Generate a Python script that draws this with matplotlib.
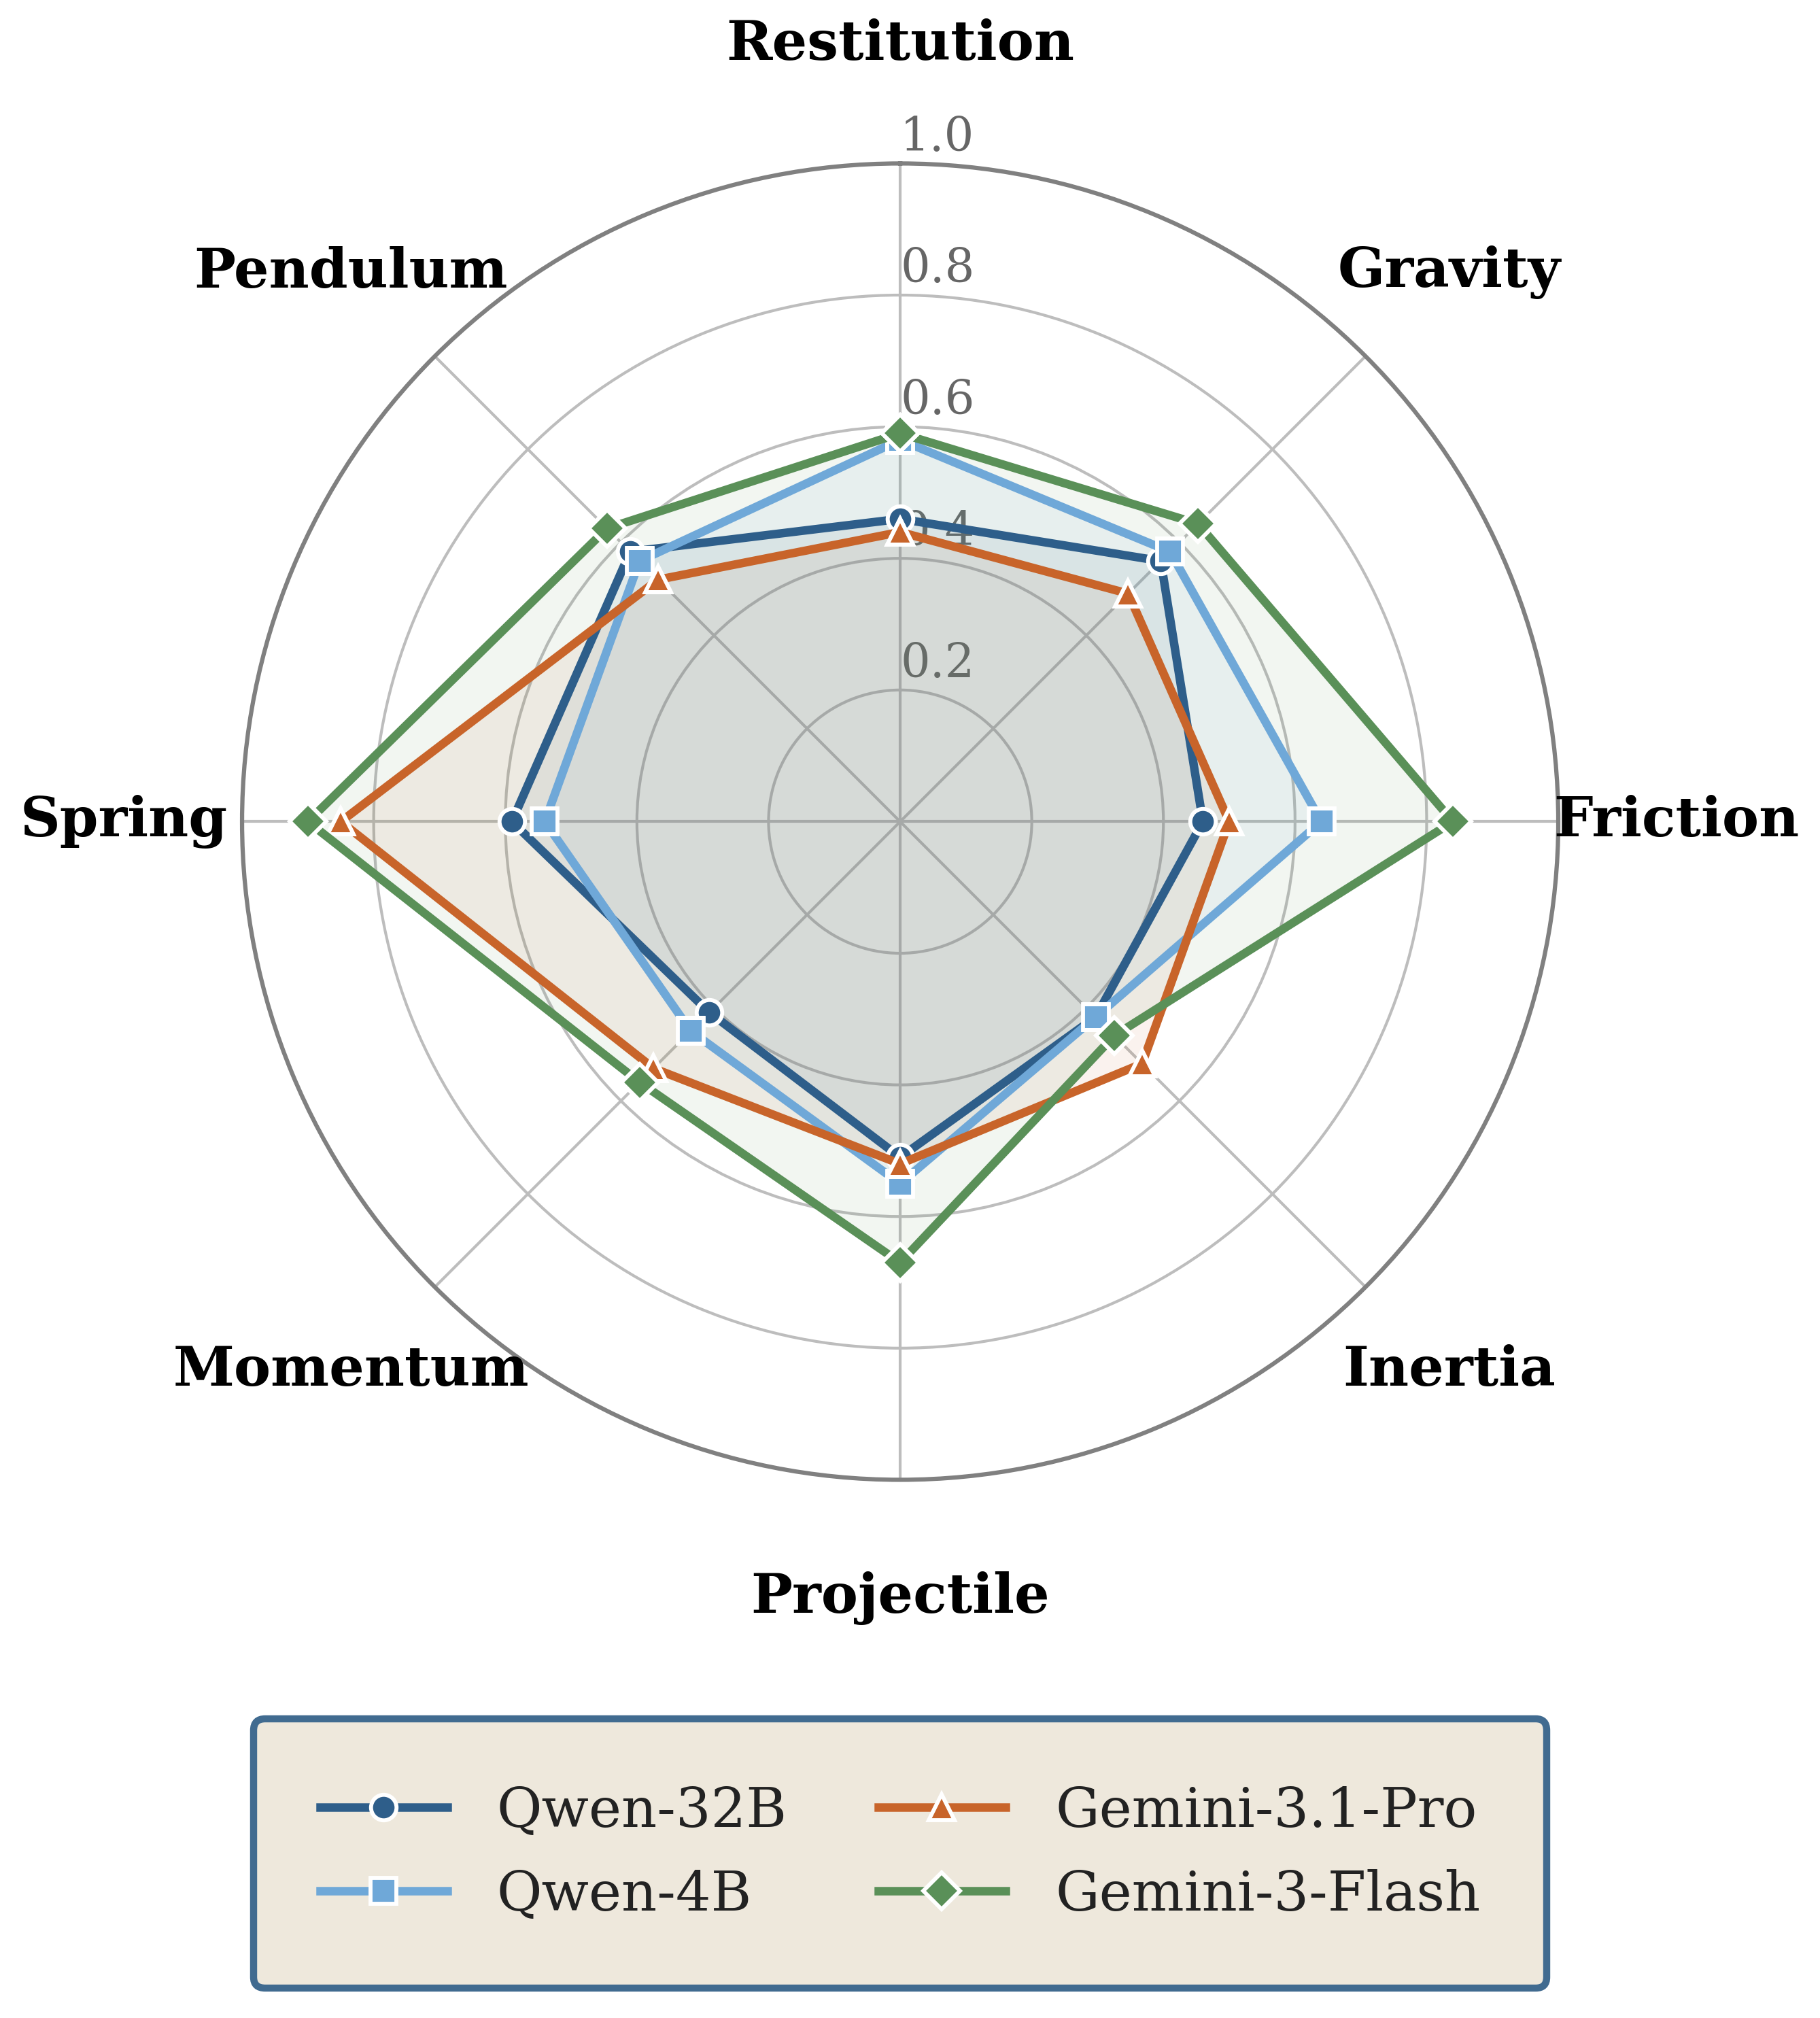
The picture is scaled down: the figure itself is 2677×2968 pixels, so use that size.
import numpy as np
import matplotlib
matplotlib.use('Agg')
import matplotlib.pyplot as plt

# --- dados ---
categories = ['Restitution', 'Gravity', 'Friction', 'Inertia',
              'Projectile', 'Momentum', 'Spring', 'Pendulum']
qwen_32b = [0.46, 0.56, 0.46, 0.42, 0.51, 0.41, 0.59, 0.58]
qwen_4b = [0.58, 0.58, 0.64, 0.42, 0.55, 0.45, 0.54, 0.56]
gemini_pro = [0.44, 0.49, 0.50, 0.52, 0.52, 0.53, 0.85, 0.52]
gemini_flash = [0.59, 0.64, 0.84, 0.46, 0.67, 0.56, 0.90, 0.63]
r_ticks = [0.2, 0.4, 0.6, 0.8, 1.0]

series = [
    ('Qwen-32B', qwen_32b, '#2E5E8A', 'o'),
    ('Qwen-4B', qwen_4b, '#6FA8D8', 's'),
    ('Gemini-3.1-Pro', gemini_pro, '#C8642A', '^'),
    ('Gemini-3-Flash', gemini_flash, '#5A9058', 'D'),
]

plt.rcParams['font.family'] = ['DejaVu Serif']

fig = plt.figure(figsize=(2677 / 300, 2968 / 300), dpi=300)
ax = fig.add_axes([0.1330, 0.2667, 0.7232, 0.6523], projection='polar')
ax.set_theta_offset(np.pi / 2)
ax.set_theta_direction(-1)

n = len(categories)
angles = np.linspace(0, 2 * np.pi, n, endpoint=False)
angles_closed = np.concatenate([angles, angles[:1]])

for name, vals, color, mk in series:
    v = np.concatenate([vals, vals[:1]])
    ax.fill(angles_closed, v, color=color, alpha=0.08, zorder=2)
    ax.plot(angles_closed, v, color=color, lw=3.0, marker=mk, markersize=9,
            markeredgecolor='white', markeredgewidth=1.4, label=name, zorder=4)

ax.set_ylim(0, 1.0)
ax.set_xticks(angles)
ax.set_xticklabels([])
ax.set_yticks(r_ticks)
ax.set_yticklabels([])
ax.grid(True, color='#BDBDBD', lw=1.0)
ax.spines['polar'].set_color('#808080')
ax.spines['polar'].set_linewidth(1.5)

# rótulos das categorias
for ang, cat in zip(angles, categories):
    ax.text(ang, 1.18, cat, ha='center', va='center', fontsize=19.5,
            fontweight='bold', color='black')

# rótulos radiais (atrás das linhas)
for r in r_ticks:
    ax.text(0, r + 0.005, f'{r:.1f}', ha='left', va='bottom', fontsize=16.5,
            color='#666666', zorder=1)

leg = ax.legend(loc='center', bbox_to_anchor=(0.5, -0.284), ncol=2,
                fontsize=19.5, frameon=True, fancybox=True,
                borderpad=1.2, labelspacing=0.55, columnspacing=1.65,
                handlelength=2.3, handletextpad=0.9)
frame = leg.get_frame()
frame.set_facecolor('#EEE8DC')
frame.set_edgecolor('#416B90')
frame.set_linewidth(2.5)
frame.set_alpha(1.0)
for t in leg.get_texts():
    t.set_color('#222222')

fig.savefig('out.png', dpi=300)
